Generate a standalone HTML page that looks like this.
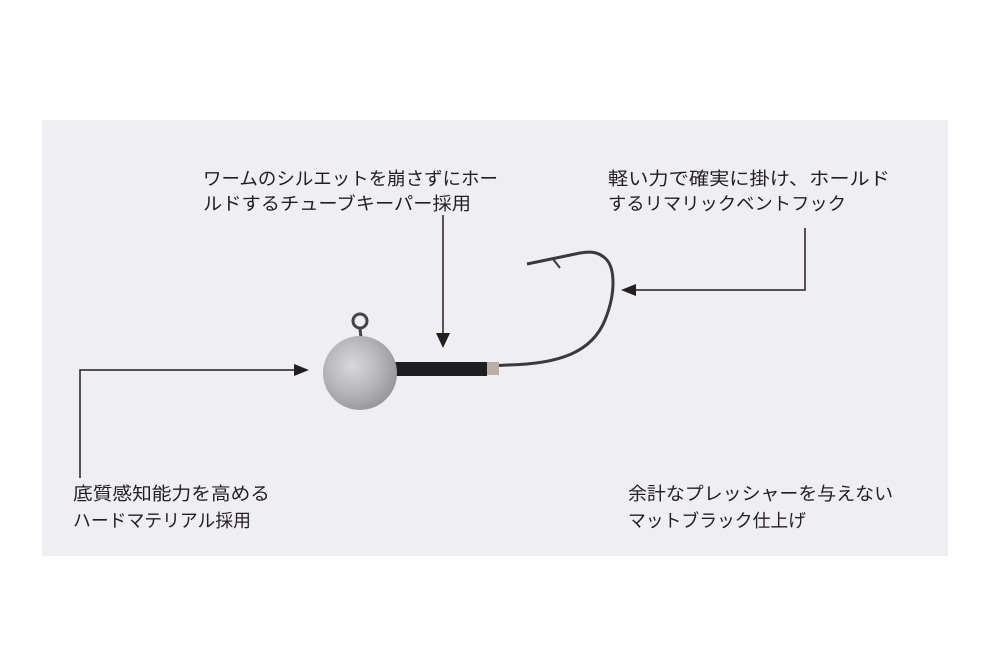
<!DOCTYPE html>
<html><head><meta charset="utf-8"><style>
html,body{margin:0;padding:0;background:#fff;}
svg{display:block;}
text{font-family:"Liberation Sans","Noto Sans CJK JP",sans-serif;font-size:18px;fill:#231f20;}
</style></head><body>
<svg width="1000" height="667" viewBox="0 0 1000 667">
<defs>
<radialGradient id="ball" cx="0.4" cy="0.4" r="0.7">
<stop offset="0" stop-color="#d8d8da"/><stop offset="0.5" stop-color="#b8b8bc"/><stop offset="1" stop-color="#8e8e94"/>
</radialGradient>
</defs>
<rect x="0" y="0" width="1000" height="667" fill="#fff"/>
<rect x="42" y="120" width="906" height="436" fill="#eeeef3"/>
<text x="203" y="185" textLength="295" lengthAdjust="spacingAndGlyphs">ワームのシルエットを崩さずにホー</text>
<text x="203" y="210" textLength="268" lengthAdjust="spacingAndGlyphs">ルドするチューブキーパー採用</text>
<text x="608" y="185" textLength="282" lengthAdjust="spacingAndGlyphs">軽い力で確実に掛け、ホールド</text>
<text x="608" y="210" textLength="238" lengthAdjust="spacingAndGlyphs">するリマリックベントフック</text>
<text x="73" y="500" textLength="197" lengthAdjust="spacingAndGlyphs">底質感知能力を高める</text>
<text x="73" y="527" textLength="178" lengthAdjust="spacingAndGlyphs">ハードマテリアル採用</text>
<text x="628" y="500" textLength="265" lengthAdjust="spacingAndGlyphs">余計なプレッシャーを与えない</text>
<text x="628" y="527" textLength="178" lengthAdjust="spacingAndGlyphs">マットブラック仕上げ</text>
<g stroke="#231f20" stroke-width="1.5" fill="none">
<polyline points="443,215 443,333"/>
<polyline points="80,478 80,370 296,370"/>
<polyline points="805,228 805,290 634,290"/>
</g>
<g fill="#231f20">
<polygon points="436,333 450,333 443,348"/>
<polygon points="294,364 294,376 309,370"/>
<polygon points="636,284 636,296 621,290"/>
</g>
<path d="M490,366 L507,365 C560,364 592,352 605,320 C616,293 615,268 606,259 C599,252 591,251 580,253 L527,264" stroke="#3a3a3e" stroke-width="3" fill="none"/>
<path d="M553,259 L560,268" stroke="#3a3a3e" stroke-width="2"/>
<rect x="395" y="362" width="92" height="14" fill="#1e1e20"/>
<rect x="487" y="362" width="12" height="13" fill="#b8b0a4"/>
<line x1="360" y1="328" x2="361" y2="338" stroke="#444" stroke-width="3"/>
<circle cx="360" cy="321" r="7" stroke="#444" stroke-width="3" fill="none"/>
<circle cx="360" cy="373" r="37" fill="url(#ball)"/>
</svg>
</body></html>
